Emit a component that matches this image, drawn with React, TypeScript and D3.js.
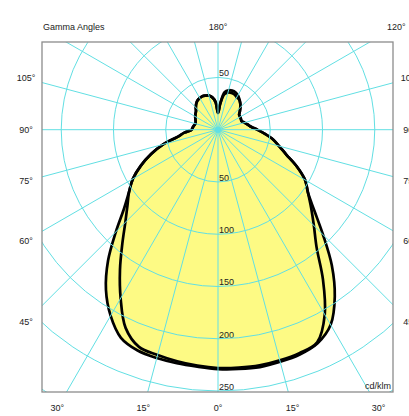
import { useEffect, useRef } from "react";
import * as d3 from "d3";

// gamma angles (degrees from nadir) the intensities are read at
const gamma = [
  0, 5, 10, 15, 20, 25, 30, 35, 40, 45, 50, 55, 60, 65, 70, 75, 80, 85, 90,
  95, 100, 105, 110, 115, 120, 125, 130, 135, 140, 145, 150, 155, 160, 165,
  170, 175, 180,
];

// C0-C180 plane (outer curve), cd/klm
const c0Right = [
  229, 229.8, 230.6, 229.9, 228.9, 225.5, 215.6, 194.8, 169.4, 142.1, 120.3,
  105.1, 96.2, 83.2, 69.5, 60.5, 53.5, 45.1, 37.6, 31.8, 28.7, 26.2, 24, 24.2,
  24.5, 24.7, 27.3, 30.2, 33.1, 35.7, 38, 39.5, 39.8, 39.1, 36.5, 25.5, 16,
];
const c0Left = [
  228, 227.6, 226.9, 226.2, 224.8, 219.7, 205.5, 186.9, 163.7, 138.2, 117.3,
  103.9, 94, 81.4, 68.1, 54.3, 39.3, 32.3, 25.2, 24.3, 23.3, 22.4, 22.7, 23.9,
  25.1, 26.3, 27.5, 30, 32.4, 34.2, 34.9, 35.4, 34.7, 33.8, 31.4, 26.5, 16,
];

// C90-C270 plane (inner curve), cd/klm
const c90Right = [
  228, 228.5, 229, 228.5, 227.5, 224.5, 204.3, 175.1, 146.7, 129.7, 116.3,
  105.1, 96.2, 83.2, 69.5, 60.5, 53.5, 45.1, 37.6, 31.8, 28.7, 26.2, 24, 24.2,
  24.5, 24.7, 27.3, 30.2, 33.1, 35.2, 35.8, 37.2, 37.5, 36.8, 34.5, 25, 16,
];
const c90Left = [
  227, 226.6, 225, 223.1, 221.1, 209.2, 186.3, 163.5, 142.4, 125.4, 113.1,
  103.9, 94, 81.4, 68.1, 54.3, 39.3, 32.3, 25.2, 24.3, 23.3, 22.4, 22.7, 23.9,
  25.1, 26.3, 27.5, 30, 32.4, 34.2, 34.9, 35.4, 34.7, 33.8, 31.4, 26.5, 16,
];

const rings = [50, 100, 150, 200, 250, 300, 350];
const ringLabelsBelow = [50, 100, 150, 200, 250];
const ringLabelsAbove = [50];
const spokes = [
  0, 15, 30, 45, 60, 75, 90, 105, 120, 135, 150, 165, 180, 195, 210, 225, 240,
  255, 270, 285, 300, 315, 330, 345,
];
const gammaTicksRight = [0, 15, 30, 45, 60, 75, 90, 105, 120, 180];
const gammaTicksLeft = [15, 30, 45, 60, 75, 90, 105];

const W = 409;
const H = 416;
const cx = 218;
const cy = 129.7;
const box = { x: 42, y: 42, w: 351, h: 350 };
const GRID = "#62dfe3";
const FILL = "#fdfa84";
const FONT = "'Liberation Sans', Arial, sans-serif";

export default function App() {
  const ref = useRef<SVGSVGElement>(null);

  useEffect(() => {
    if (!ref.current) return;
    const svg = d3.select(ref.current);
    svg.selectAll("*").remove();

    const r = d3.scaleLinear().domain([0, 250]).range([0, 261.3]);
    const rad = (deg: number) => (deg * Math.PI) / 180;

    // build closed polygon: right half from 180 down to 0, then left half 5..175
    const buildPoints = (right: number[], left: number[]) => {
      const pts: [number, number][] = [];
      for (let i = gamma.length - 1; i >= 0; i--) {
        pts.push([Math.PI - rad(gamma[i]), r(right[i])]);
      }
      for (let i = 1; i < gamma.length - 1; i++) {
        pts.push([Math.PI + rad(gamma[i]), r(left[i])]);
      }
      return pts;
    };

    const line = d3
      .lineRadial<[number, number]>()
      .angle((d) => d[0])
      .radius((d) => d[1])
      .curve(d3.curveCatmullRomClosed.alpha(0.5));

    const curves = [buildPoints(c0Right, c0Left), buildPoints(c90Right, c90Left)];

    svg
      .append("defs")
      .append("clipPath")
      .attr("id", "plotClip")
      .append("rect")
      .attr("x", box.x)
      .attr("y", box.y)
      .attr("width", box.w)
      .attr("height", box.h);

    const g = svg.append("g").attr("transform", `translate(${cx},${cy})`);

    // fills
    g.selectAll(".fill")
      .data(curves)
      .enter()
      .append("path")
      .attr("class", "fill")
      .attr("d", (d) => line(d))
      .attr("fill", FILL)
      .attr("stroke", "none");

    // grid, clipped to the frame
    const grid = svg
      .append("g")
      .attr("clip-path", "url(#plotClip)")
      .append("g")
      .attr("transform", `translate(${cx},${cy})`);

    grid
      .selectAll("circle")
      .data(rings)
      .enter()
      .append("circle")
      .attr("r", (d) => r(d))
      .attr("fill", "none")
      .attr("stroke", GRID)
      .attr("stroke-width", 1);

    grid
      .selectAll("line")
      .data(spokes)
      .enter()
      .append("line")
      .attr("x1", 0)
      .attr("y1", 0)
      .attr("x2", (d) => 500 * Math.sin(rad(d)))
      .attr("y2", (d) => 500 * Math.cos(rad(d)))
      .attr("stroke", GRID)
      .attr("stroke-width", 1);

    g.append("circle").attr("r", 3).attr("fill", "#3fe6ee");

    // outlines
    g.selectAll(".outline")
      .data(curves)
      .enter()
      .append("path")
      .attr("class", "outline")
      .attr("d", (d) => line(d))
      .attr("fill", "none")
      .attr("stroke", "#000")
      .attr("stroke-width", 2.7)
      .attr("stroke-linejoin", "round");

    // ring value labels
    const txt = (sel: d3.Selection<SVGTextElement, unknown, null, undefined>) =>
      sel.style("font-family", FONT).style("font-size", "9px").attr("fill", "#222");

    ringLabelsBelow.forEach((v) => {
      g.append("text")
        .attr("x", 1)
        .attr("y", r(v) - 1)
        .text(String(v))
        .call(txt);
    });
    ringLabelsAbove.forEach((v) => {
      g.append("text")
        .attr("x", 1)
        .attr("y", -r(v) - 1)
        .text(String(v))
        .call(txt);
    });

    // frame
    svg
      .append("rect")
      .attr("x", box.x)
      .attr("y", box.y)
      .attr("width", box.w)
      .attr("height", box.h)
      .attr("fill", "none")
      .attr("stroke", "#8c8c8c")
      .attr("stroke-width", 1.3);

    // gamma angle labels sit on a larger frame around the plot
    const labelPos = (side: number, deg: number) => {
      const dx = side * Math.sin(rad(deg));
      const dy = Math.cos(rad(deg));
      const ts: number[] = [];
      if (Math.abs(dx) > 1e-6) ts.push(192 / Math.abs(dx));
      if (dy > 1e-6) ts.push(278.3 / dy);
      if (dy < -1e-6) ts.push(103 / -dy);
      const t = Math.min(...ts);
      return [cx + t * dx, cy + t * dy];
    };

    const addLabel = (side: number, deg: number) => {
      const [x, y] = labelPos(side, deg);
      svg
        .append("text")
        .attr("x", x)
        .attr("y", y)
        .attr("text-anchor", "middle")
        .attr("dominant-baseline", "central")
        .text(`${deg}°`)
        .call(txt);
    };
    gammaTicksRight.forEach((d) => addLabel(1, d));
    gammaTicksLeft.forEach((d) => addLabel(-1, d));

    svg
      .append("text")
      .attr("x", 43)
      .attr("y", 26.7)
      .attr("dominant-baseline", "central")
      .text("Gamma Angles")
      .call(txt);

    svg
      .append("text")
      .attr("x", 391)
      .attr("y", 389)
      .attr("text-anchor", "end")
      .text("cd/klm")
      .call(txt);
  }, []);

  return (
    <svg
      ref={ref}
      width={W}
      height={H}
      style={{ position: "absolute", left: 0, top: 0, background: "#fff" }}
    />
  );
}
